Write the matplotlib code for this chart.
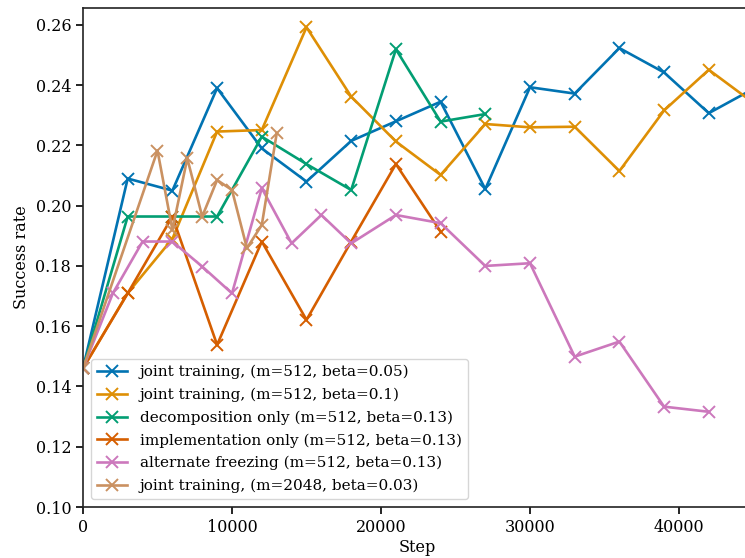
import matplotlib
matplotlib.use("Agg")
import matplotlib.pyplot as plt

plt.rcParams['font.family'] = ['DejaVu Serif']

labels = [
    "joint training, (m=512, beta=0.05)",
    "joint training, (m=512, beta=0.1)",
    "decomposition only (m=512, beta=0.13)",
    "implementation only (m=512, beta=0.13)",
    "alternate freezing (m=512, beta=0.13)",
    "joint training, (m=2048, beta=0.03)",
]
colors = ["#0173B2", "#DE8F05", "#029E73", "#D55E00", "#CC78BC", "#CA9161"]

blue_x = [0, 3000, 6000, 9000, 12000, 15000, 18000, 21000, 24000, 27000, 30000, 33000, 36000, 39000, 42000, 45000]
blue_y = [0.146, 0.209, 0.205, 0.239, 0.219, 0.208, 0.2215, 0.228, 0.2345, 0.2055, 0.2393, 0.2372, 0.2523, 0.2442, 0.2307, 0.2388]

orange_x = [0, 3000, 6000, 9000, 12000, 15000, 18000, 21000, 24000, 27000, 30000, 33000, 36000, 39000, 42000, 45000]
orange_y = [0.146, 0.171, 0.189, 0.2246, 0.2251, 0.2592, 0.2362, 0.2213, 0.2102, 0.2271, 0.226, 0.2262, 0.2115, 0.2316, 0.2451, 0.2341]

green_x = [0, 3000, 6000, 9000, 12000, 15000, 18000, 21000, 24000, 27000]
green_y = [0.146, 0.1964, 0.1964, 0.1964, 0.2229, 0.2138, 0.2052, 0.2519, 0.2279, 0.2304]

dkorange_x = [0, 3000, 6000, 9000, 12000, 15000, 18000, 21000, 24000]
dkorange_y = [0.146, 0.1709, 0.1964, 0.1538, 0.1881, 0.1621, 0.1881, 0.2138, 0.1914]

pink_x = [0, 2000, 4000, 6000, 8000, 10000, 12000, 14000, 16000, 18000, 21000, 24000, 27000, 30000, 33000, 36000, 39000, 42000]
pink_y = [0.146, 0.1709, 0.1881, 0.1881, 0.1798, 0.1709, 0.2058, 0.1875, 0.1969, 0.1875, 0.1969, 0.1942, 0.18, 0.1809, 0.1499, 0.1549, 0.1333, 0.1316]

tan_x = [0, 5000, 6000, 7000, 8000, 9000, 10000, 11000, 12000, 13000]
tan_y = [0.146, 0.2183, 0.192, 0.2157, 0.1964, 0.2085, 0.2052, 0.1859, 0.1936, 0.224]

series = [(blue_x, blue_y), (orange_x, orange_y), (green_x, green_y),
          (dkorange_x, dkorange_y), (pink_x, pink_y), (tan_x, tan_y)]

fig = plt.figure(figsize=(7.45, 5.58), dpi=100)
left = 83 / 745
bottom = 51 / 558
height = (507 - 8) / 558
width = (752 - 83) / 745
ax = fig.add_axes([left, bottom, width, height])

for (xs, ys), lab, c in zip(series, labels, colors):
    ax.plot(xs, ys, marker='x', color=c, label=lab, linewidth=1.9,
            markersize=8, markeredgewidth=1.4)

ax.set_xlim(0, 44900)
ax.set_ylim(0.10, 0.2656)
ax.set_xticks([0, 10000, 20000, 30000, 40000])
yt = [0.10, 0.12, 0.14, 0.16, 0.18, 0.20, 0.22, 0.24, 0.26]
ax.set_yticks(yt)
ax.set_yticklabels([f"{v:.2f}" for v in yt])
ax.tick_params(labelsize=11.5, length=5, width=1.2)
for s in ax.spines.values():
    s.set_linewidth(1.2)
    s.set_color("#222222")
ax.set_xlabel("Step", fontsize=11.5, labelpad=2)
ax.set_ylabel("Success rate", fontsize=11.5)
ax.legend(loc='lower left', fontsize=11, borderaxespad=0.5, labelspacing=0.55)

fig.savefig("out.png", dpi=100)
